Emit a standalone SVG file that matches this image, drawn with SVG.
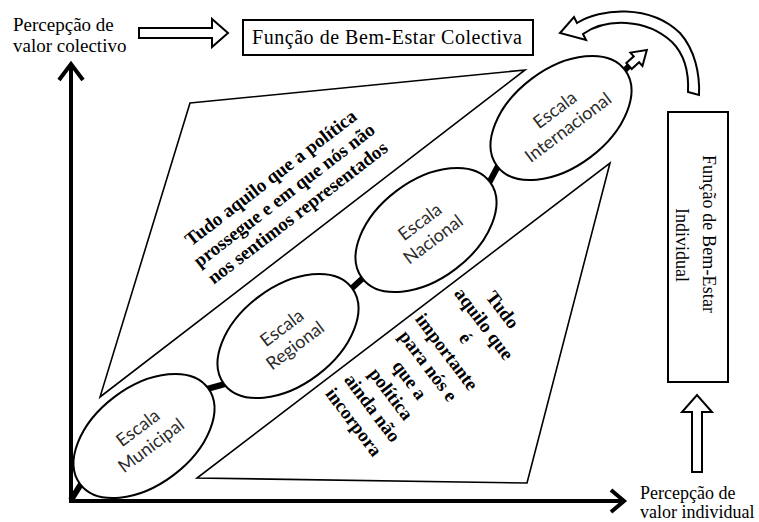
<svg xmlns="http://www.w3.org/2000/svg" width="759" height="522" viewBox="0 0 759 522">
<defs>
<style>
.serif{font-family:"Liberation Serif","Times New Roman",serif;fill:#000}
.lbl{font-size:19px}
.lbl2{font-size:18px}
.bold{font-family:"Liberation Serif","Times New Roman",serif;font-weight:bold;font-size:19px;fill:#000;text-anchor:middle}
.sans{font-family:Lato,"Open Sans",sans-serif;font-size:18px;fill:#2b2b2b;text-anchor:middle}
.shape{fill:#fff;stroke:#000;stroke-width:1.6;stroke-linejoin:miter}
.ell{fill:#fff;stroke:#000;stroke-width:2}
.hollow{fill:#fff;stroke:#000;stroke-width:2;stroke-linejoin:miter}
.axis{fill:none;stroke:#000;stroke-width:4;stroke-linejoin:miter}
.stub{stroke:#000;stroke-width:6;fill:none}
.box{fill:#fff;stroke:#000;stroke-width:2}
</style>
</defs>
<rect width="759" height="522" fill="#fff"/>

<g id="region-upper">
  <polygon class="shape" points="190,103 525,70 100,397"/>
  <g transform="translate(284,195) rotate(-37.5)">
    <text class="bold" y="-15.5">Tudo aquilo que a política</text>
    <text class="bold" y="6.5">prossegue e em que nós não</text>
    <text class="bold" y="28.5">nos sentimos representados</text>
  </g>
</g>

<g id="region-lower">
  <polygon class="shape" points="610,163 527,483 197,478"/>
  <g transform="translate(428,366) rotate(53)">
    <text class="bold" y="-87.2">Tudo</text>
    <text class="bold" y="-63.9">aquilo que</text>
    <text class="bold" y="-40.6">é</text>
    <text class="bold" y="-17.3">importante</text>
    <text class="bold" y="6">para nós e</text>
    <text class="bold" y="29.3">que a</text>
    <text class="bold" y="52.6">política</text>
    <text class="bold" y="75.9">ainda não</text>
    <text class="bold" y="99.2">incorpora</text>
  </g>
</g>

<g id="connectors">
  <path class="axis" d="M71,64 V501 H624"/>
  <polyline class="axis" points="59,80 71,64 83,80"/>
  <polyline class="axis" points="611,490 624,501 611,512"/>
  <line class="stub" x1="71" y1="500" x2="81" y2="484"/>
  <line class="stub" x1="207" y1="389" x2="225" y2="384"/>
  <line class="stub" x1="351" y1="289" x2="363" y2="278"/>
  <line class="stub" x1="489" y1="183" x2="498" y2="166"/>
  <line class="stub" x1="624" y1="71" x2="631" y2="64"/>
  <path class="hollow" d="M139,28 H212 V19 L228,33 L212,47 V38 H139 Z"/>
  <path class="hollow" d="M692,472 V412 H682 L697,395 L712,412 H702 V472 Z"/>
  <g transform="translate(629,66) rotate(-42)">
    <path class="hollow" d="M0,-4 H10 V-9 L24,0 L10,9 V4 H0 Z"/>
  </g>
  <path class="hollow" d="M577,23 C600,8 650,4 680,33 C695,50 700,74 699,95 L688,92 C689,72 684,54 672,42 C646,18 606,18 583,34 L586,40 L560,33 L574,17 Z"/>
</g>

<g id="scale-municipal" transform="translate(144,436) rotate(-37)">
  <ellipse class="ell" rx="80" ry="49"/>
  <text class="sans" y="-4">Escala</text>
  <text class="sans" y="18">Municipal</text>
</g>
<g id="scale-regional" transform="translate(288,336) rotate(-37)">
  <ellipse class="ell" rx="80" ry="49"/>
  <text class="sans" y="-4">Escala</text>
  <text class="sans" y="18">Regional</text>
</g>
<g id="scale-nacional" transform="translate(426,230) rotate(-37)">
  <ellipse class="ell" rx="80" ry="49"/>
  <text class="sans" y="-4">Escala</text>
  <text class="sans" y="18">Nacional</text>
</g>
<g id="scale-internacional" transform="translate(561,118) rotate(-37)">
  <ellipse class="ell" rx="80" ry="49"/>
  <text class="sans" y="-4">Escala</text>
  <text class="sans" y="18">Internacional</text>
</g>

<g id="label-collective">
  <text class="serif lbl" x="13" y="31">Percepção de</text>
  <text class="serif lbl" x="13" y="52">valor colectivo</text>
</g>

<g id="box-collective">
  <rect class="box" x="243" y="20" width="290" height="35"/>
  <text class="serif" x="252" y="44" font-size="20" textLength="270" lengthAdjust="spacing">Função de Bem-Estar Colectiva</text>
</g>

<g id="box-individual">
  <rect class="box" x="668" y="112" width="60" height="270"/>
  <text class="serif" transform="translate(703,155) rotate(90)" font-size="18" textLength="158" lengthAdjust="spacing">Função de Bem-Estar</text>
  <text class="serif" transform="translate(676,208) rotate(90)" font-size="18">Individual</text>
</g>

<g id="label-individual">
  <text class="serif lbl2" x="640" y="499">Percepção de</text>
  <text class="serif lbl2" x="640" y="518">valor individual</text>
</g>
</svg>
